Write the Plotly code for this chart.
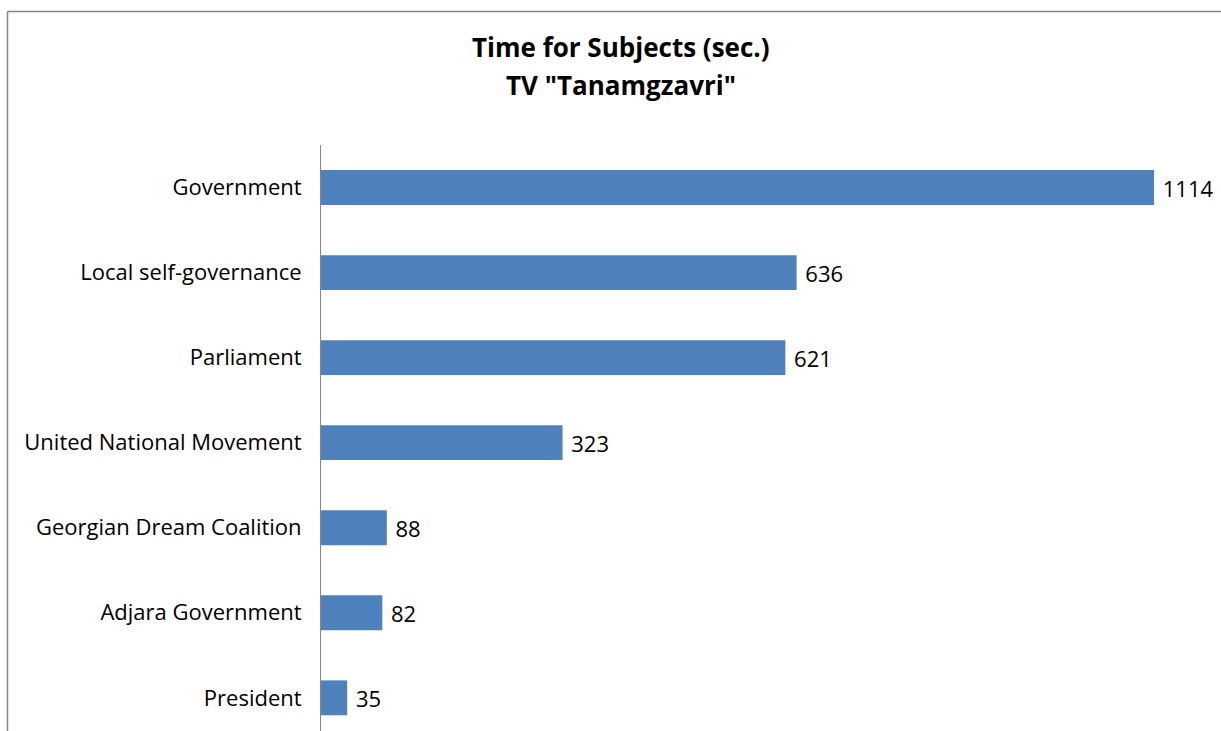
import plotly.graph_objects as go

categories = ["Government", "Local self-governance", "Parliament", "United National Movement",
              "Georgian Dream Coalition", "Adjara Government", "President"]
values = [1114, 636, 621, 323, 88, 82, 35]
title_lines = ["Time for Subjects (sec.)", "TV \"Tanamgzavri\""]

W, H = 1221, 731
L, T = 321, 145
plot_h = H - T
plot_w = W - L

def px_x(p):
    return (p - L) / plot_w

def px_y(p):
    return (H - p) / plot_h

fig = go.Figure(go.Bar(
    x=values, y=categories, orientation="h",
    marker=dict(color="#4F81BD", line=dict(width=0)),
    text=[" " + str(v) for v in values], textposition="outside",
    textfont=dict(family="Open Sans", size=22, color="#000000"),
    cliponaxis=False,
))

fig.update_layout(
    width=W, height=H,
    margin=dict(l=L, r=0, t=T, b=0),
    paper_bgcolor="white", plot_bgcolor="white",
    bargap=0.59,
    showlegend=False,
    font=dict(family="Open Sans", color="#000000"),
)
fig.update_xaxes(range=[0, plot_w / 0.7478], visible=False, showgrid=False, zeroline=False)
fig.update_yaxes(
    type="category", range=[6.39, -0.5],
    showline=True, linecolor="#868686", linewidth=1,
    showgrid=False, zeroline=False, ticks="",
    ticklabelstandoff=14,
    tickfont=dict(family="Open Sans", size=22, color="#000000"),
)

# chart border (left and top)
fig.add_shape(type="line", xref="paper", yref="paper",
              x0=px_x(7.5), x1=px_x(7.5), y0=px_y(11.5), y1=-0.05,
              line=dict(color="#868686", width=1.5))
fig.add_shape(type="line", xref="paper", yref="paper",
              x0=px_x(7.5), x1=1.05, y0=px_y(11.5), y1=px_y(11.5),
              line=dict(color="#868686", width=1.5))

for line, py in zip(title_lines, [47, 85]):
    fig.add_annotation(text="<b>" + line + "</b>", xref="paper", yref="paper",
                       x=px_x(620.5), y=px_y(py), xanchor="center", yanchor="middle",
                       showarrow=False,
                       font=dict(family="Open Sans", size=26, color="#000000"))

fig.write_html("out.html", config={"displayModeBar": False},
               post_script="document.body.style.margin='0';document.body.style.overflow='hidden';")
